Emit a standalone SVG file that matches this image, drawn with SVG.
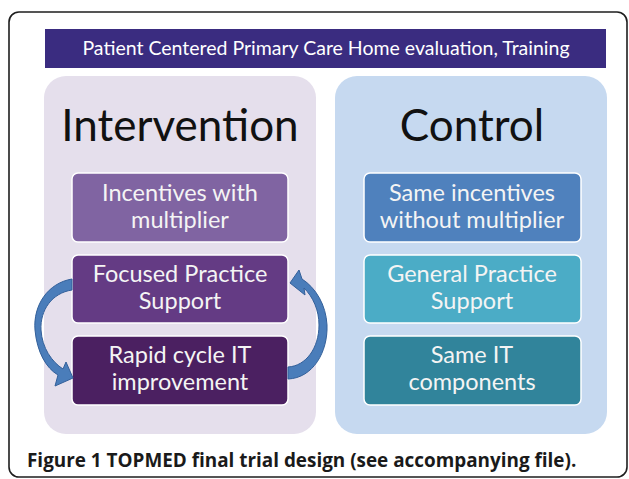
<svg xmlns="http://www.w3.org/2000/svg" width="629" height="479" viewBox="0 0 629 479">
<style>
.frame{fill:#ffffff;stroke:#1e1e1e;stroke-width:1.6}
.banner{fill:#3a2c80}
.bannertxt{font-family:Lato,"Open Sans",sans-serif;font-size:19.5px;fill:#ffffff;text-anchor:middle}
.head{font-family:Lato,"Open Sans",sans-serif;font-size:44px;fill:#111111;text-anchor:middle}
.box{stroke:#ffffff;stroke-width:1.5}
.btxt{font-family:Lato,"Open Sans",sans-serif;font-size:23.5px;fill:#f4f4f4;text-anchor:middle}
.arrow{fill:#4a7dba;stroke:#33609a;stroke-width:1}
.cap{font-family:"Open Sans","Liberation Sans",sans-serif;font-size:18.9px;font-weight:700;fill:#1a1a1a}
</style>
<rect class="frame" x="9" y="12" width="618" height="465" rx="10"/>
<g id="banner">
<rect class="banner" x="45" y="29" width="561" height="39"/>
<text class="bannertxt" x="326" y="55">Patient Centered Primary Care Home evaluation, Training</text>
</g>
<g id="intervention">
<rect x="44" y="76" width="272" height="358" rx="22" fill="#e5dfec"/>
<text class="head" x="180" y="141">Intervention</text>
</g>
<g id="control">
<rect x="335" y="76" width="272" height="358" rx="22" fill="#c6d9f0"/>
<text class="head" x="472" y="141">Control</text>
</g>
<g id="incentives">
<rect class="box" x="72" y="173" width="216" height="69" rx="6" fill="#8064a2"/>
<text class="btxt" x="180" y="201">Incentives with</text>
<text class="btxt" x="180" y="228">multiplier</text>
</g>
<g id="focused">
<rect class="box" x="72" y="255" width="216" height="68" rx="6" fill="#643b84"/>
<text class="btxt" x="180" y="282">Focused Practice</text>
<text class="btxt" x="180" y="309">Support</text>
</g>
<g id="rapid">
<rect class="box" x="72" y="336" width="216" height="69" rx="6" fill="#4b2061"/>
<text class="btxt" x="180" y="363">Rapid cycle IT</text>
<text class="btxt" x="180" y="390">improvement</text>
</g>
<g id="same-incentives">
<rect class="box" x="364" y="173" width="217" height="69" rx="6" fill="#4f81bd"/>
<text class="btxt" x="472" y="201">Same incentives</text>
<text class="btxt" x="472" y="228">without multiplier</text>
</g>
<g id="general">
<rect class="box" x="364" y="255" width="217" height="68" rx="6" fill="#4bacc6"/>
<text class="btxt" x="472" y="282">General Practice</text>
<text class="btxt" x="472" y="309">Support</text>
</g>
<g id="same-it">
<rect class="box" x="364" y="336" width="217" height="69" rx="6" fill="#31849b"/>
<text class="btxt" x="472" y="363">Same IT</text>
<text class="btxt" x="472" y="390">components</text>
</g>
<g id="connectors">
<path class="arrow" d="M72,279 C48,283 33,305 35,330 C37,352 46,368 58,375 L55,386 L73,378 L66,362 L63,369 C52,362 42,348 41,330 C40,310 52,293 72,290 Z"/>
<path class="arrow" d="M288,379 C313,378 328,352 327,325 C326,305 316,288 302,279 L299,270 L290,283 L305,295 L304,288 C313,297 319,310 319,325 C319,348 306,366 288,367 Z"/>
</g>
<text class="cap" x="27" y="467">Figure 1 TOPMED final trial design (see accompanying file).</text>
</svg>
